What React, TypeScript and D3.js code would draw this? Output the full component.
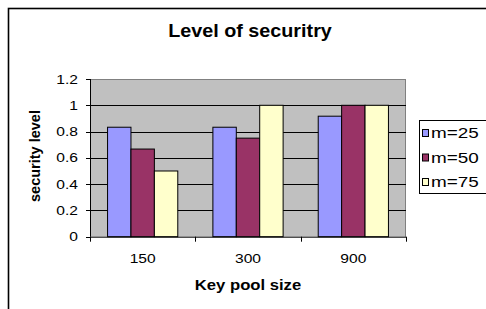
import React from "react";
import * as d3 from "d3";

// Nivel de seguridad por tamaño del pool de claves
const categories = ["150", "300", "900"];
const series = ["m=25", "m=50", "m=75"];
const values = [
  [0.833, 0.667, 0.5],
  [0.833, 0.75, 1.0],
  [0.917, 1.0, 1.0],
];
const colors = ["#9999FF", "#993366", "#FFFFCC"];
const yTicks = [0, 0.2, 0.4, 0.6, 0.8, 1, 1.2];

const W = 486;
const H = 309;
const FONT = "Arial, 'Liberation Sans', sans-serif";

// texto estirado en horizontal, como en la captura original
const T = ({ x, y, sx = 1.2, size = 13, bold = false, anchor = "start", children }: any) => (
  <text
    transform={`translate(${x},${y}) scale(${sx},1)`}
    fontSize={size}
    fontWeight={bold ? "bold" : "normal"}
    textAnchor={anchor}
    fill="#000"
  >
    {children}
  </text>
);

export default function App() {
  const plot = { left: 90, right: 406, top: 79, bottom: 236.7 };

  const x0 = d3
    .scaleBand()
    .domain(categories)
    .range([plot.left, plot.right])
    .paddingInner(1 / 3)
    .paddingOuter(1 / 6);
  const x1 = d3.scaleBand().domain(series).range([0, x0.bandwidth()]);
  const y = d3.scaleLinear().domain([0, 1.2]).range([plot.bottom, plot.top]);

  const bounds = [plot.left, ...categories.map((c) => (x0(c) as number) + x0.bandwidth() + x0.step() * (1 / 6))];
  const fmt = (d: number) => (d === 0 ? "0" : d3.format("~g")(d));

  return (
    <svg
      width={W}
      height={H}
      style={{ position: "absolute", left: 0, top: 0, background: "#fff" }}
      fontFamily={FONT}
    >
      {/* marco */}
      <rect x={8.5} y={8.5} width={W + 10} height={H + 10} fill="none" stroke="#000" strokeWidth={1.6} />

      <T x={250} y={37} size={17.5} sx={1.13} bold anchor="middle">
        Level of securitry
      </T>

      {/* área de trazado */}
      <rect
        x={plot.left}
        y={plot.top}
        width={plot.right - plot.left}
        height={plot.bottom - plot.top}
        fill="#C0C0C0"
      />
      <line x1={plot.left} x2={plot.right} y1={plot.top + 0.5} y2={plot.top + 0.5} stroke="#808080" />
      <line x1={plot.right - 0.5} x2={plot.right - 0.5} y1={plot.top} y2={plot.bottom} stroke="#808080" />
      {yTicks
        .filter((t) => t > 0 && t < 1.2)
        .map((t) => (
          <line key={t} x1={plot.left} x2={plot.right} y1={Math.round(y(t)) + 0.5} y2={Math.round(y(t)) + 0.5} stroke="#000" />
        ))}

      {/* barras */}
      {categories.map((c, i) => (
        <g key={c}>
          {series.map((s, j) => (
            <rect
              key={s}
              x={(x0(c) as number) + (x1(s) as number)}
              y={y(values[i][j])}
              width={x1.bandwidth()}
              height={y(0) - y(values[i][j])}
              fill={colors[j]}
              stroke="#000"
              strokeWidth={1}
            />
          ))}
        </g>
      ))}

      {/* eje Y */}
      <line x1={plot.left + 0.5} x2={plot.left + 0.5} y1={plot.top} y2={plot.bottom} stroke="#000" />
      {yTicks.map((t) => (
        <g key={t}>
          <line x1={plot.left - 4} x2={plot.left} y1={Math.round(y(t)) + 0.5} y2={Math.round(y(t)) + 0.5} stroke="#000" />
          <T x={78} y={y(t) + 4.6} size={13} sx={1.2} anchor="end">
            {fmt(t)}
          </T>
        </g>
      ))}

      {/* eje X */}
      <line x1={plot.left} x2={plot.right} y1={plot.bottom + 0.5} y2={plot.bottom + 0.5} stroke="#000" />
      {bounds.map((b, i) => (
        <line key={i} x1={Math.round(b) + 0.5} x2={Math.round(b) + 0.5} y1={plot.bottom} y2={plot.bottom + 5} stroke="#000" />
      ))}
      {categories.map((c) => (
        <T key={c} x={(x0(c) as number) + x0.bandwidth() / 2} y={263} size={13} sx={1.2} anchor="middle">
          {c}
        </T>
      ))}

      <T x={248} y={290} size={14} sx={1.19} bold anchor="middle">
        Key pool size
      </T>
      <text
        transform={`translate(39.5,156) rotate(-90)`}
        fontSize={14.5}
        fontWeight="bold"
        textAnchor="middle"
      >
        security level
      </text>

      {/* leyenda */}
      <rect x={419.5} y={120.5} width={70} height={73} fill="#fff" stroke="#000" />
      {series.map((s, j) => {
        const cy = 133 + j * 24.5;
        return (
          <g key={s}>
            <rect x={422.5} y={cy - 3.5} width={6} height={7} fill={colors[j]} stroke="#000" />
            <T x={431} y={cy + 5} size={14} sx={1.35}>
              {s}
            </T>
          </g>
        );
      })}
    </svg>
  );
}
